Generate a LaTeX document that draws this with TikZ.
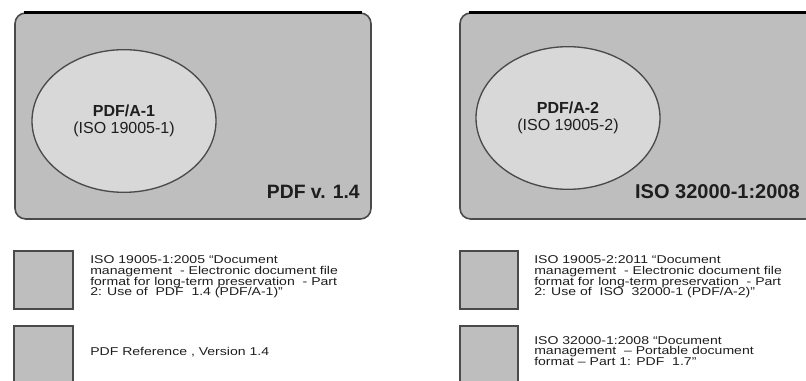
\documentclass[tikz,border=0pt]{standalone}
\usepackage{fontspec}
\setmainfont{Liberation Sans}
\newfontfamily\keyfont[FakeStretch=1.24]{Liberation Sans}
\usetikzlibrary{shapes.geometric, positioning}
\definecolor{cpanel}{HTML}{BEBEBE}
\definecolor{coval}{HTML}{D8D8D8}
\definecolor{cedge}{HTML}{4A4A4A}
\definecolor{cink}{HTML}{1E1E1E}
\tikzset{
  panel/.style={draw=cedge, fill=cpanel, rounded corners=8pt, line width=1.2pt, minimum width=267pt, minimum height=154.5pt},
  oval/.style={ellipse, draw=cedge, fill=coval, line width=1pt, minimum width=138pt, minimum height=107pt, align=center, text=cink, font=\fontsize{12}{13}\selectfont},
  topedge/.style={draw=black, line width=2pt},
  version/.style={font=\fontsize{14.5}{16}\selectfont\bfseries, text=cink, anchor=east, inner sep=0pt},
  keybox/.style={draw=cedge, fill=cpanel, line width=1.3pt, minimum size=44pt, inner sep=0pt},
  keytext/.style={font=\keyfont\fontsize{8.5}{8}\selectfont, text=cink, align=left, anchor=west, inner sep=0pt},
}

\begin{document}
\begin{tikzpicture}[x=0.75pt, y=-0.75pt]
  \clip (0,0) rectangle (806,381);
  \node[panel] (pdf14) at (193,116) {};
  \node[panel] (iso32) at (638,116) {};
  \draw[topedge] ([xshift=7pt]pdf14.north west) -- ([xshift=-7pt]pdf14.north east);
  \draw[topedge] ([xshift=7pt]iso32.north west) -- ([xshift=-7pt]iso32.north east);
  \node[oval] (pdfa1) at (124,121) {\textbf{PDF/A-1}\\(ISO 19005-1)};
  \node[oval] (pdfa2) at (568,118) {\textbf{PDF/A-2}\\(ISO 19005-2)};
  \node[version] (v14) at (360,192) {PDF v. 1.4};
  \node[version, font=\fontsize{15}{17}\selectfont\bfseries] (v2008) at (800,192) {ISO 32000-1:2008};
  \node[keybox] (k1) at (43.5,280) {};
  \node[keybox] (k2) at (43.5,355) {};
  \node[keybox] (k3) at (489,280) {};
  \node[keybox] (k4) at (489,355) {};
  \node[keytext] (t1) at (90,277) {ISO 19005-1:2005 “Document\\management\ \ - Electronic document file\\format for long-term preservation\ \ - Part\\2: Use of\ \ PDF\ \ 1.4 (PDF/A-1)”};
  \node[keytext] (t2) at (90,352) {PDF Reference , Version 1.4};
  \node[keytext] (t3) at (534,277) {ISO 19005-2:2011 “Document\\management\ \ - Electronic document file\\format for long-term preservation\ \ - Part\\2: Use of\ \ ISO\ \ 32000-1 (PDF/A-2)”};
  \node[keytext] (t4) at (534,351) {ISO 32000-1:2008 “Document\\management\ \ – Portable document\\format – Part 1: PDF\ \ 1.7”};
\end{tikzpicture}
\end{document}
